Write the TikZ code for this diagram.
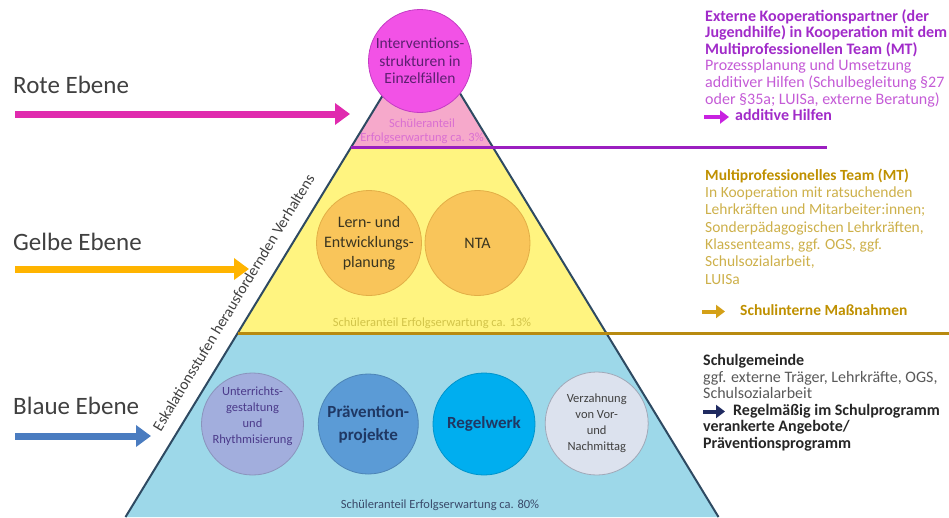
\documentclass[tikz,border=0pt]{standalone}
\usepackage{fontspec}
\setmainfont{Carlito}
\usetikzlibrary{arrows.meta}
\definecolor{pinkfill}{HTML}{F6A9CB}
\definecolor{yelfill}{HTML}{FFF480}
\definecolor{bluefill}{HTML}{9DD8E9}
\definecolor{edgecol}{HTML}{2E4A62}
\definecolor{purpline}{HTML}{9B1FC0}
\definecolor{goldline}{HTML}{B88A10}
\definecolor{topfill}{HTML}{F252E6}
\definecolor{topdraw}{HTML}{C43CC4}
\definecolor{toptext}{HTML}{5C1F70}
\definecolor{pinktext}{HTML}{DA6FD2}
\definecolor{ycirc}{HTML}{F9C55A}
\definecolor{ycircd}{HTML}{E2AE46}
\definecolor{ytext}{HTML}{3A3520}
\definecolor{ypct}{HTML}{D2C44A}
\definecolor{bOne}{HTML}{A2AEDD}
\definecolor{bOneT}{HTML}{4B3A8A}
\definecolor{bTwo}{HTML}{5B9BD6}
\definecolor{bThree}{HTML}{00AEEF}
\definecolor{bFour}{HTML}{DCE2EE}
\definecolor{bFourD}{HTML}{A0A8B8}
\definecolor{navytext}{HTML}{1F3864}
\definecolor{bpct}{HTML}{3A4A6A}
\definecolor{labelgray}{HTML}{404040}
\definecolor{roteC}{HTML}{E02AAE}
\definecolor{gelbC}{HTML}{FFB400}
\definecolor{blauC}{HTML}{4A7CC0}
\definecolor{purpBold}{HTML}{A12BC9}
\definecolor{purpNorm}{HTML}{C45BD6}
\definecolor{purpArrow}{HTML}{C822E0}
\definecolor{goldBold}{HTML}{BF9000}
\definecolor{goldNorm}{HTML}{CDB04A}
\definecolor{goldArrow}{HTML}{D4A017}
\definecolor{darkBold}{HTML}{262626}
\definecolor{darkNorm}{HTML}{595959}
\definecolor{navyArrow}{HTML}{1F2A60}
\begin{document}
\begin{tikzpicture}[x=1pt,y=-1pt,
  edge/.style={draw=edgecol,line width=2pt},
  circ/.style={circle,inner sep=0pt,align=center,line width=0.8pt},
  bigarrow/.style={line width=7pt,-{Triangle[length=15pt,width=21pt]}},
  smallarrow/.style={line width=4pt,-{Triangle[length=9pt,width=13pt]}},
  lbl/.style={anchor=base west,inner sep=0pt,text=labelgray,font=\fontsize{25}{30}\selectfont},
  rblock/.style={anchor=north west,inner sep=0pt,align=left},
  pct/.style={inner sep=0pt,align=center,font=\fontsize{12.5}{13.5}\selectfont}
]
\useasboundingbox (0,0) rectangle (949,517);
% pyramid fills
\fill[pinkfill] (422,31) -- (492.8,147) -- (351.2,147) -- cycle;
\fill[yelfill] (351.2,147) -- (492.8,147) -- (606.2,333) -- (237.8,333) -- cycle;
\fill[bluefill] (237.8,333) -- (606.2,333) -- (718.5,517) -- (125.5,517) -- cycle;
\draw[edge] (125.5,517) -- (422,31) -- (718.5,517);
% dividers
\draw[purpline,line width=3pt] (351.2,147) -- (827,147);
\draw[goldline,line width=3pt] (237.8,333) -- (949,333);
% top circle
\node[circ,minimum size=103pt,fill=topfill,draw=topdraw,text=toptext,
  font=\fontsize{15.5}{17.5}\selectfont] (top) at (420,61)
  {Interventions-\\strukturen in\\Einzelfällen};
\node[pct,text=pinktext] (ppct) at (422,131) {Schüleranteil\\Erfolgserwartung ca. 3\%};
% yellow circles
\node[circ,minimum size=105pt,fill=ycirc,draw=ycircd,text=ytext,
  font=\fontsize{16}{20}\selectfont] (lern) at (369,243)
  {Lern- und\\Entwicklungs-\\planung};
\node[circ,minimum size=105pt,fill=ycirc,draw=ycircd,text=ytext,
  font=\fontsize{16}{20}\selectfont] (nta) at (477.5,243) {NTA};
\node[pct,text=ypct] (ypct) at (432,323) {Schüleranteil Erfolgserwartung ca. 13\%};
% blue circles
\node[circ,minimum size=102pt,fill=bOne,draw=bOne!85!black] (unt) at (252.5,424) {};
\node[inner sep=0pt,align=center,text=bOneT,font=\fontsize{12.5}{16}\selectfont]
  (untt) at (252.5,416) {Unterrichts-\\gestaltung\\und\\Rhythmisierung};
\node[circ,minimum size=100pt,fill=bTwo,draw=bTwo!85!black,text=navytext,
  font=\fontsize{17}{23}\selectfont\bfseries] (prae) at (368.3,424)
  {Prävention-\\projekte};
\node[circ,minimum size=102pt,fill=bThree,draw=bThree!85!black,text=navytext,
  font=\fontsize{17}{23}\selectfont\bfseries] (regel) at (484,424) {Regelwerk};
\node[circ,minimum size=103pt,fill=bFour,draw=bFourD,text=labelgray,
  font=\fontsize{12.5}{16}\selectfont] (verz) at (596.7,423.5)
  {Verzahnung\\von Vor-\\und\\Nachmittag};
\node[pct,text=bpct] (bpctn) at (440,505) {Schüleranteil Erfolgserwartung ca. 80\%};
% escalation text
\node[rotate=58.66,inner sep=0pt,text=labelgray,font=\fontsize{15.5}{18}\selectfont]
  (esk) at (233.5,302.5) {Eskalationsstufen herausfordernden Verhaltens};
% left labels and arrows
\node[lbl] (rote) at (13,93) {Rote Ebene};
\node[lbl] (gelbe) at (13,250) {Gelbe Ebene};
\node[lbl] (blaue) at (13,414) {Blaue Ebene};
\coordinate (ra) at (15,114); \coordinate (rb) at (350,114);
\coordinate (ga) at (15,269); \coordinate (gb) at (249,269);
\coordinate (ba) at (15,436); \coordinate (bb) at (151,436);
\draw[bigarrow,roteC] (ra) -- (rb);
\draw[bigarrow,gelbC] (ga) -- (gb);
\draw[bigarrow,blauC] (ba) -- (bb);
% right text blocks
\node[rblock,font=\fontsize{16}{16.6}\selectfont] (rt1) at (705,9)
  {\textcolor{purpBold}{\bfseries Externe Kooperationspartner (der}\\
   \textcolor{purpBold}{\bfseries Jugendhilfe) in Kooperation mit dem}\\
   \textcolor{purpBold}{\bfseries Multiprofessionellen Team (MT)}\\
   \textcolor{purpNorm}{Prozessplanung und Umsetzung}\\
   \textcolor{purpNorm}{additiver Hilfen (Schulbegleitung §27}\\
   \textcolor{purpNorm}{oder §35a; LUISa, externe Beratung)}\\
   \hspace*{30pt}\textcolor{purpBold}{\bfseries additive Hilfen}};
\coordinate (pa1) at (704,117); \coordinate (pa2) at (729,117);
\draw[smallarrow,purpArrow] (pa1) -- (pa2);
\node[rblock,font=\fontsize{15.5}{17.3}\selectfont] (rt2) at (705,168.5)
  {\textcolor{goldBold}{\bfseries Multiprofessionelles Team (MT)}\\
   \textcolor{goldNorm}{In Kooperation mit ratsuchenden}\\
   \textcolor{goldNorm}{Lehrkräften und Mitarbeiter:innen;}\\
   \textcolor{goldNorm}{Sonderpädagogischen Lehrkräften,}\\
   \textcolor{goldNorm}{Klassenteams, ggf. OGS, ggf.}\\
   \textcolor{goldNorm}{Schulsozialarbeit,}\\
   \textcolor{goldNorm}{LUISa}\\[13.7pt]
   \hspace*{35pt}\textcolor{goldBold}{\bfseries Schulinterne Maßnahmen}};
\coordinate (ga1) at (702,311.5); \coordinate (ga2) at (725,311.5);
\draw[smallarrow,goldArrow] (ga1) -- (ga2);
\node[rblock,font=\fontsize{16}{16.6}\selectfont] (rt3) at (703,354)
  {\textcolor{darkBold}{\bfseries Schulgemeinde}\\
   \textcolor{darkNorm}{ggf. externe Träger, Lehrkräfte, OGS,}\\
   \textcolor{darkNorm}{Schulsozialarbeit}\\
   \hspace*{30pt}\textcolor{darkBold}{\bfseries Regelmäßig im Schulprogramm}\\
   \textcolor{darkBold}{\bfseries verankerte Angebote/}\\
   \textcolor{darkBold}{\bfseries Präventionsprogramm}};
\coordinate (na1) at (703,411.5); \coordinate (na2) at (725,411.5);
\draw[smallarrow,navyArrow] (na1) -- (na2);
\end{tikzpicture}
\end{document}
